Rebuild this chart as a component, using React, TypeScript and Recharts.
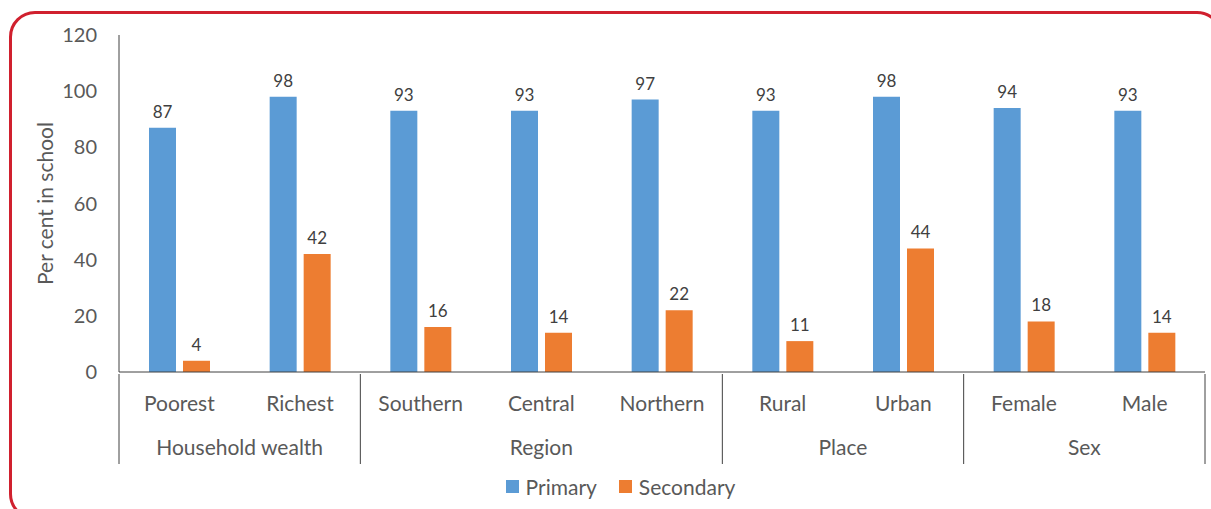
import React from 'react';
import { BarChart, Bar, XAxis, YAxis, Legend, LabelList } from 'recharts';

const categories = ['Poorest', 'Richest', 'Southern', 'Central', 'Northern', 'Rural', 'Urban', 'Female', 'Male'];
const primary = [87, 98, 93, 93, 97, 93, 98, 94, 93];
const secondary = [4, 42, 16, 14, 22, 11, 44, 18, 14];
const groups = ['Household wealth', 'Region', 'Place', 'Sex'];
const groupSizes = [2, 3, 2, 2];
const yTicks = [0, 20, 40, 60, 80, 100, 120];
const seriesNames = ['Primary', 'Secondary'];
const seriesColors = ['#5B9BD5', '#ED7D31'];

const data = categories.map((c, i) => ({ name: c, primary: primary[i], secondary: secondary[i] }));

const W = 1211;
const H = 509;
const MARGIN = { top: 35, right: 6, bottom: 0, left: 0 };
const YAXIS_W = 119;
const FONT = 'Lato, "Open Sans", sans-serif';
const TEXT = '#595959';

const groupStart: number[] = [];
let acc = 0;
groupSizes.forEach((s) => { groupStart.push(acc); acc += s; });

const CatTick = (props: any) => {
  const { x, y, payload, index } = props;
  const bw = (W - MARGIN.right - YAXIS_W) / categories.length;
  const i = index ?? payload.index;
  const els: any[] = [];
  els.push(
    <text key="c" x={x} y={y + 37} textAnchor="middle" fill={TEXT} fontSize={21} fontFamily={FONT}>
      {payload.value}
    </text>
  );
  const g = groupStart.indexOf(i);
  if (g >= 0) {
    els.push(<line key="l" x1={x - bw / 2} x2={x - bw / 2} y1={y} y2={y + 90} stroke="#404040" strokeWidth={1} />);
    els.push(
      <text key="g" x={x + ((groupSizes[g] - 1) * bw) / 2} y={y + 81} textAnchor="middle" fill={TEXT} fontSize={21} fontFamily={FONT}>
        {groups[g]}
      </text>
    );
  }
  if (i === categories.length - 1) {
    els.push(<line key="r" x1={x + bw / 2} x2={x + bw / 2} y1={y} y2={y + 90} stroke="#404040" strokeWidth={1} />);
  }
  return <g>{els}</g>;
};

const LegendContent = () => (
  <div style={{ display: 'flex', justifyContent: 'center', alignItems: 'center', fontFamily: FONT, fontSize: 21, color: TEXT }}>
    {seriesNames.map((n, i) => (
      <div key={n} style={{ display: 'flex', alignItems: 'center', marginRight: i === 0 ? 22 : 0 }}>
        <span style={{ display: 'inline-block', width: 13, height: 13, background: seriesColors[i], marginRight: 7 }} />
        <span>{n}</span>
      </div>
    ))}
  </div>
);

const YLabel = (props: any) => {
  const vb = props.viewBox || {};
  const cx = 44;
  const cy = (vb.y ?? 35) + (vb.height ?? 337) / 2;
  return (
    <text x={cx} y={cy} transform={`rotate(-90 ${cx} ${cy})`} textAnchor="middle" dominantBaseline="central" fill={TEXT} fontSize={21} fontFamily={FONT}>
      Per cent in school
    </text>
  );
};

export default function App() {
  return (
    <div style={{ position: 'absolute', left: 0, top: 0, width: W, height: H, overflow: 'hidden', background: '#fff' }}>
      <div style={{ position: 'absolute', left: 9, top: 11, width: 1214, height: 509, border: '3px solid #D0202E', borderRadius: 26, boxSizing: 'border-box' }} />
      <div style={{ position: 'absolute', left: 0, top: 0 }}>
        <BarChart width={W} height={H} data={data} margin={MARGIN} barSize={27} barGap={7}>
          <YAxis
            width={YAXIS_W}
            domain={[0, 120]}
            ticks={yTicks}
            tickLine={false}
            tickSize={0}
            tickMargin={22}
            axisLine={{ stroke: '#404040' }}
            tick={{ fill: TEXT, fontSize: 20, fontFamily: FONT }}
            label={{ content: YLabel }}
          />
          <XAxis
            dataKey="name"
            height={90}
            tickLine={false}
            tickSize={0}
            axisLine={{ stroke: '#404040' }}
            tick={<CatTick />}
            interval={0}
          />
          <Legend verticalAlign="bottom" height={47} content={<LegendContent />} wrapperStyle={{ top: 474, left: 15, width: W }} />
          <Bar dataKey="primary" name={seriesNames[0]} fill={seriesColors[0]} isAnimationActive={false}>
            <LabelList dataKey="primary" position="top" offset={10} fill="#404040" fontSize={17} fontFamily={FONT} />
          </Bar>
          <Bar dataKey="secondary" name={seriesNames[1]} fill={seriesColors[1]} isAnimationActive={false}>
            <LabelList dataKey="secondary" position="top" offset={10} fill="#404040" fontSize={17} fontFamily={FONT} />
          </Bar>
        </BarChart>
      </div>
    </div>
  );
}
